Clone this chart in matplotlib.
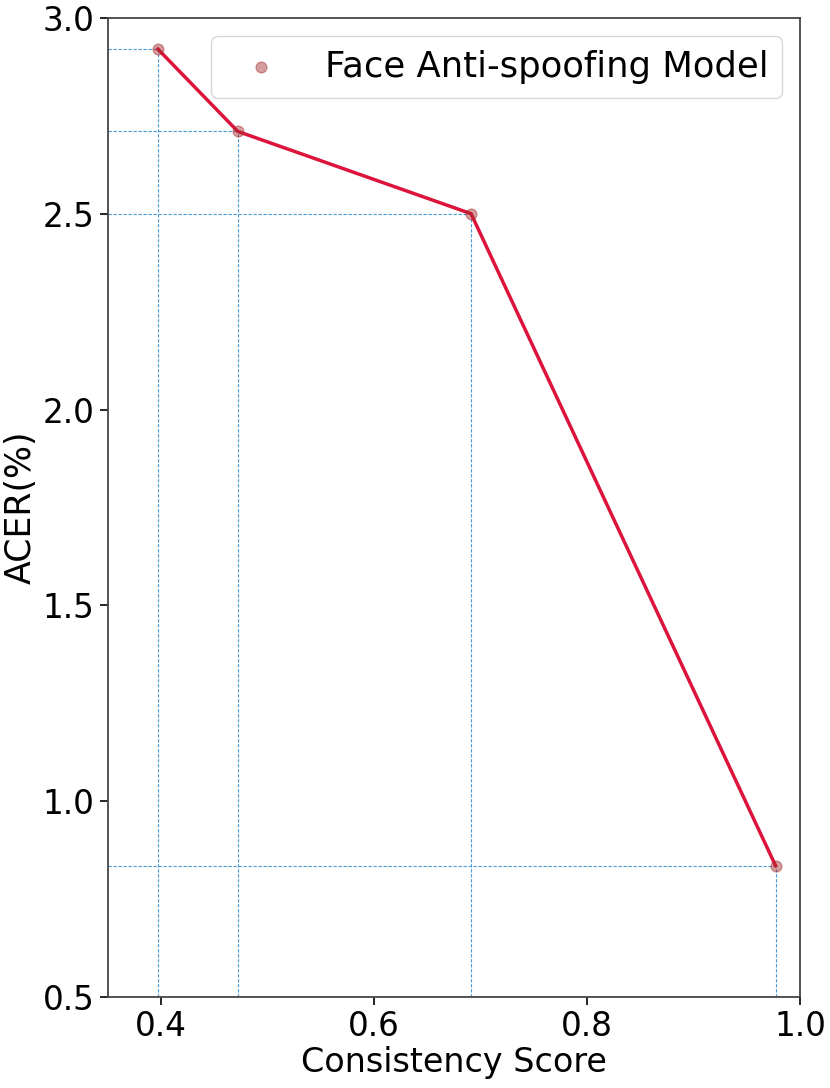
import numpy as np
import matplotlib
matplotlib.use("Agg")
import matplotlib.pyplot as plt

consistency = [0.397, 0.472, 0.691, 0.977]
acer = [2.92, 2.71, 2.50, 0.835]

fig = plt.figure(figsize=(8.3, 10.88), dpi=100)
ax = fig.add_axes([0.130, 0.0836, 0.834, 0.9])

ax.set_xlim(0.35, 1.0)
ax.set_ylim(0.5, 3.0)

# guide lines from the axes to each point
for x, y in zip(consistency, acer):
    ax.plot([0.35, x], [y, y], color='#4b9ad8', linestyle=(0, (3, 1.5)), linewidth=0.8, zorder=1)
    ax.plot([x, x], [0.5, y], color='#4b9ad8', linestyle=(0, (3, 1.5)), linewidth=0.8, zorder=1)

ax.plot(consistency, acer, color='crimson', linewidth=2.5, zorder=2)
ax.scatter(consistency, acer, s=60, color='brown', alpha=0.45, zorder=3, label='Face Anti-spoofing Model')

ax.set_xlabel('Consistency Score', fontsize=24, labelpad=2)
ax.set_ylabel('ACER(%)', fontsize=25, labelpad=4)
ax.tick_params(labelsize=23.5, width=1.2, length=6)
ax.set_xticks([0.4, 0.6, 0.8, 1.0])
ax.set_yticks([0.5, 1.0, 1.5, 2.0, 2.5, 3.0])
for s in ax.spines.values():
    s.set_color('#444444')
    s.set_linewidth(1.3)

ax.legend(loc='upper right', fontsize=25.5)

fig.savefig('out.png', dpi=100)
